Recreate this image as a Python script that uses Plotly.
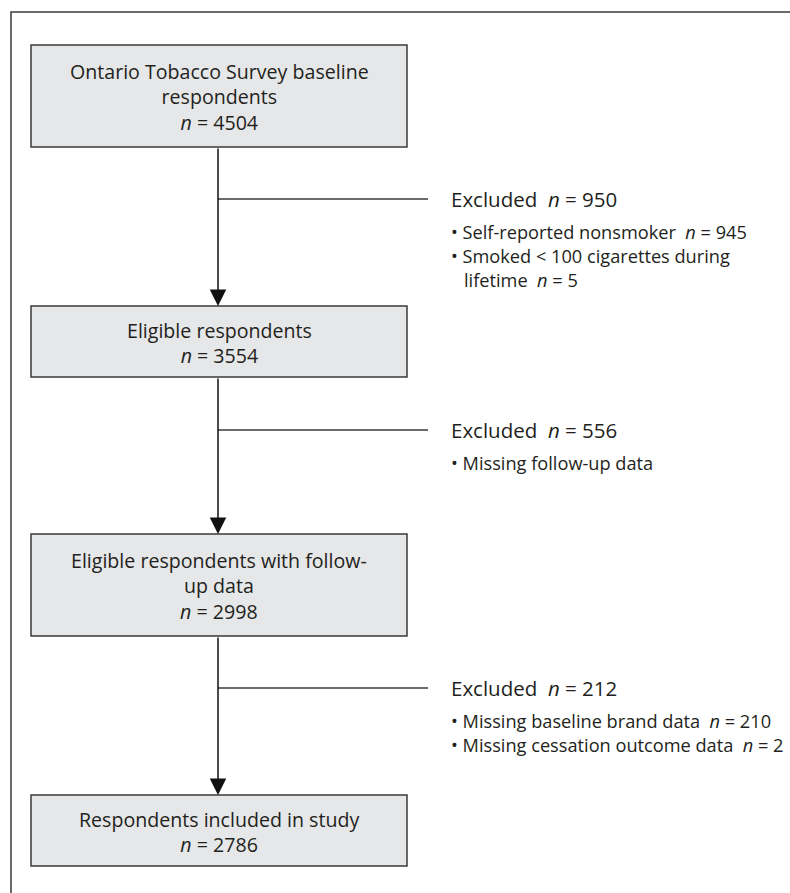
import plotly.graph_objects as go

box_titles = [
    "Ontario Tobacco Survey baseline<br>respondents",
    "Eligible respondents",
    "Eligible respondents with follow-<br>up data",
    "Respondents included in study",
]
box_n = [4504, 3554, 2998, 2786]
excluded_n = [950, 556, 212]
exclusion_reasons = [
    ["Self-reported nonsmoker", "Smoked &lt; 100 cigarettes during<br>lifetime"],
    ["Missing follow-up data"],
    ["Missing baseline brand data", "Missing cessation outcome data"],
]
reason_n = [[945, 5], [None], [210, 2]]

# ---- layout (pixel space) ----
W, H = 790, 893
box_x0, box_x1 = 31, 407
box_top = [45, 306, 534, 795]
box_bot = [147, 377, 636, 866]
spine_x = 218
branch_y = [199, 430, 688]
branch_x1 = 428
excl_x = 449
bullet_indent_x = 462

TEXT = "#231f20"
LINE = "#3a3a3a"
FILL = "#e6e7e8"
FONT = "Open Sans"
BOX_FS = 19.6
EXC_FS = 20.5
BUL_FS = 18.2

fig = go.Figure()
fig.add_trace(go.Scatter(x=[0, W], y=[0, H], mode="markers",
                         marker=dict(opacity=0), hoverinfo="skip", showlegend=False))

shapes = []
annotations = []

# outer frame (left + top visible)
shapes.append(dict(type="path", path=f"M 11 {H+20} L 11 12 L {W+20} 12",
                   line=dict(color=LINE, width=1.5), xref="x", yref="y"))

# boxes + text
for i, (title, n) in enumerate(zip(box_titles, box_n)):
    shapes.append(dict(type="rect", x0=box_x0, x1=box_x1, y0=box_top[i], y1=box_bot[i],
                       xref="x", yref="y", fillcolor=FILL,
                       line=dict(color=LINE, width=1.5), layer="below"))
    label = title + f"<br><i>n</i> = {n}"
    cy = (box_top[i] + box_bot[i]) / 2 + 1
    annotations.append(dict(x=(box_x0 + box_x1) / 2, y=cy, xref="x", yref="y",
                            text=label, showarrow=False, align="center",
                            xanchor="center", yanchor="middle",
                            font=dict(family=FONT, size=BOX_FS, color=TEXT)))

# arrows between boxes
for i in range(len(box_titles) - 1):
    annotations.append(dict(x=spine_x, y=box_top[i + 1], ax=spine_x, ay=box_bot[i],
                            xref="x", yref="y", axref="x", ayref="y",
                            showarrow=True, arrowhead=2, arrowsize=2.2, arrowwidth=1.5,
                            arrowcolor="#111111", standoff=0, text=""))

# exclusion branches
for i, yb in enumerate(branch_y):
    shapes.append(dict(type="line", x0=spine_x, x1=branch_x1, y0=yb, y1=yb,
                       xref="x", yref="y", line=dict(color=LINE, width=1.5)))
    annotations.append(dict(x=excl_x, y=yb, xref="x", yref="y",
                            text=f"Excluded  <i>n</i> = {excluded_n[i]}",
                            showarrow=False, xanchor="left", yanchor="middle",
                            font=dict(family=FONT, size=EXC_FS, color=TEXT)))
    yy = yb + 33
    for reason, rn in zip(exclusion_reasons[i], reason_n[i]):
        parts = reason.split("<br>")
        for j, p in enumerate(parts):
            txt = p
            if j == len(parts) - 1 and rn is not None:
                txt += f"  <i>n</i> = {rn}"
            if j == 0:
                txt = "• " + txt
                xpos = excl_x
            else:
                xpos = bullet_indent_x
            annotations.append(dict(x=xpos, y=yy, xref="x", yref="y", text=txt,
                                    showarrow=False, xanchor="left", yanchor="middle",
                                    font=dict(family=FONT, size=BUL_FS, color=TEXT)))
            yy += 24

fig.update_layout(
    width=W, height=H, margin=dict(l=0, r=0, t=0, b=0),
    paper_bgcolor="white", plot_bgcolor="white",
    xaxis=dict(range=[0, W], visible=False, fixedrange=True),
    yaxis=dict(range=[H, 0], visible=False, fixedrange=True),
    shapes=shapes, annotations=annotations, showlegend=False,
)

fig.write_html("out.html", config={"displayModeBar": False},
               post_script="document.body.style.margin='0';")
